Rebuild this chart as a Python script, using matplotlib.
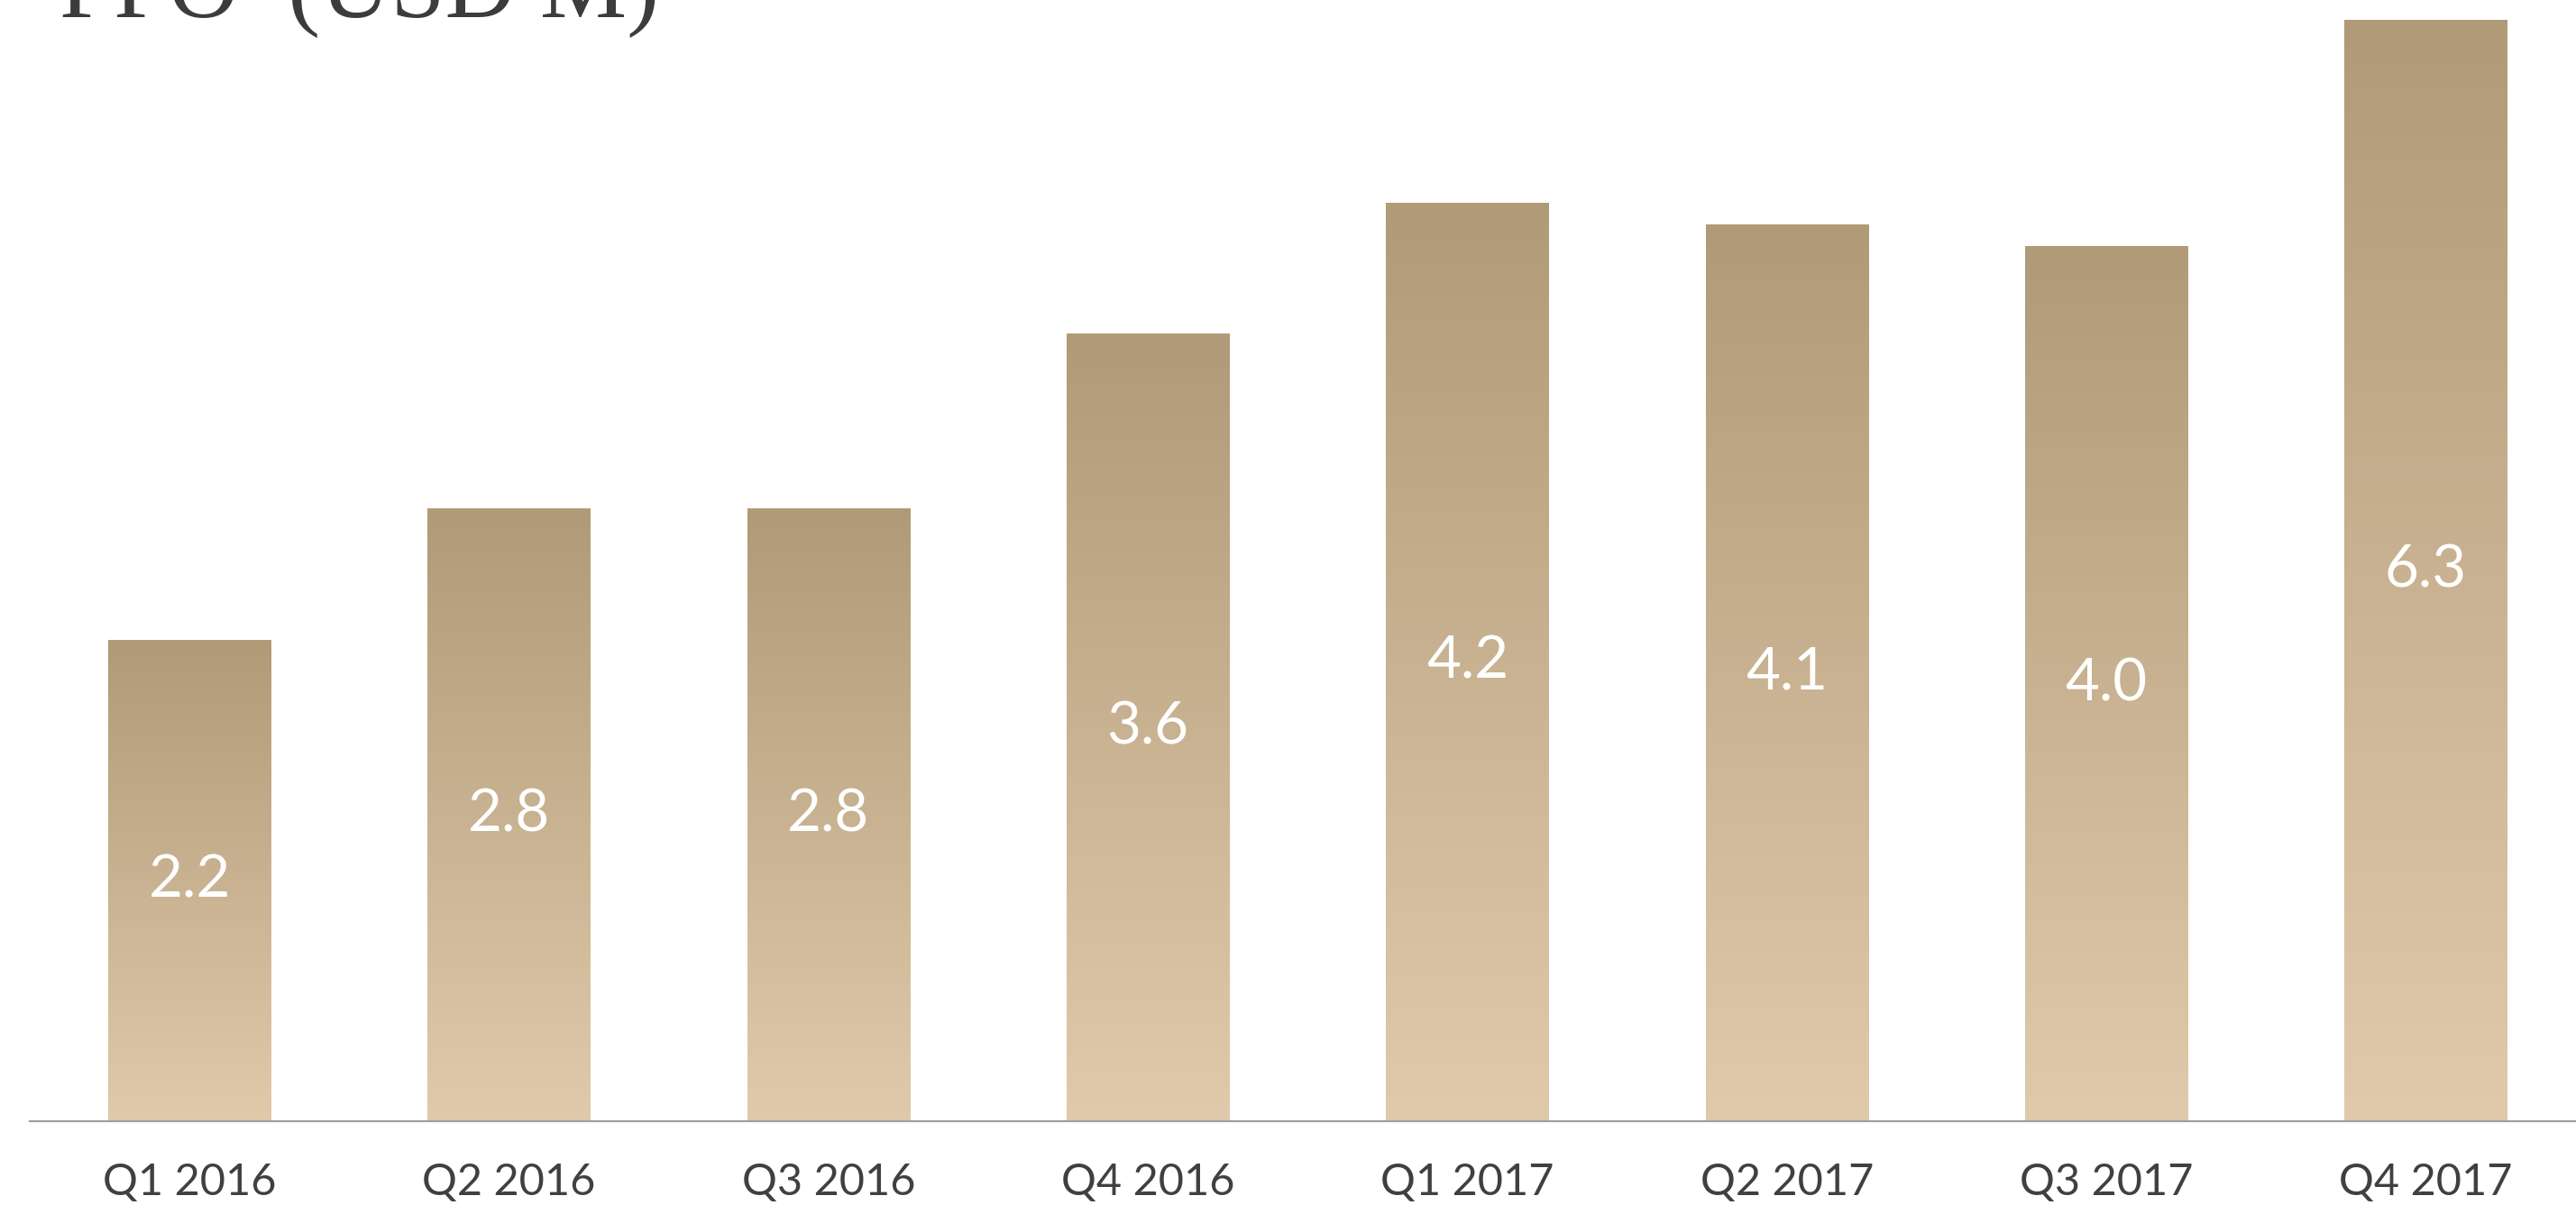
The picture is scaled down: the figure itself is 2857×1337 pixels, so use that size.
import numpy as np
import matplotlib.pyplot as plt
from matplotlib.colors import LinearSegmentedColormap

quarters = ["Q1 2016", "Q2 2016", "Q3 2016", "Q4 2016",
            "Q1 2017", "Q2 2017", "Q3 2017", "Q4 2017"]
ffo = [2.2, 2.8, 2.8, 3.6, 4.2, 4.1, 4.0, 6.3]

title = "FFO  (USD M)"

top_color = "#b09a77"
bottom_color = "#e0caab"
y_top = 5.035
bar_w = 0.51

plt.rcParams['font.family'] = ['Lato', 'DejaVu Sans']

fig = plt.figure(figsize=(28.57, 13.37), dpi=100)
ax = fig.add_axes([0.0116, 0.0696, 0.9884, 0.9139])

# vertical gradient, dark at the top of each bar
grad = LinearSegmentedColormap.from_list("gold", [bottom_color, top_color])
ramp = np.linspace(0, 1, 256).reshape(-1, 1)

x = np.arange(len(quarters))
bars = ax.bar(x, ffo, width=bar_w, color="none", edgecolor="none")
for xi, v, b in zip(x, ffo, bars):
    h = min(v, y_top)
    im = ax.imshow(ramp, cmap=grad, origin="lower", aspect="auto",
                   extent=[xi - bar_w / 2, xi + bar_w / 2, 0, h],
                   interpolation="bicubic", zorder=2)
    im.set_clip_path(b)
    ax.text(xi, h / 2, f"{v:.1f}", color="white", fontsize=47,
            fontweight="normal", ha="center", va="center", zorder=3)

ax.set_xlim(-0.5, 7.47)
ax.set_ylim(0, y_top)

for s in ["top", "right", "left"]:
    ax.spines[s].set_visible(False)
ax.spines["bottom"].set_color("#a0a0a0")
ax.spines["bottom"].set_linewidth(1.6)
ax.spines["bottom"].set_zorder(4)

ax.set_yticks([])
ax.set_xticks(x)
ax.set_xticklabels(quarters, fontsize=35, color="#404040")
ax.tick_params(axis="x", length=0, pad=33)

fig.text(0.0231, 0.9855, title, fontsize=78, color="#3c3c3c",
         family="Liberation Serif", ha="left", va="baseline")

fig.savefig("out.png", dpi=100, facecolor="white")
